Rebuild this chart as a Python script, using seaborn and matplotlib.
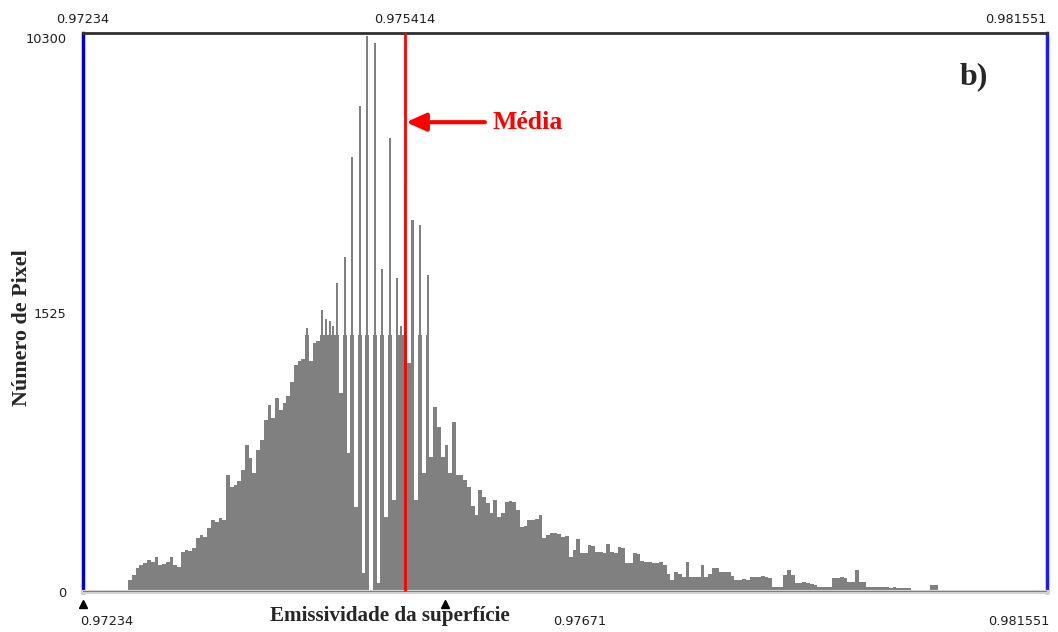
import numpy as np
import matplotlib
matplotlib.use("Agg")
import matplotlib.pyplot as plt
import matplotlib.transforms as mtransforms
import seaborn as sns

# ---------------- data ----------------
x_min = 0.97234
x_max = 0.981551
mean_value = 0.975414
n_bins = 256

pixel_counts = [
    0, 0, 0, 0, 0, 0, 0, 5, 0, 8,
    0, 10, 65, 93, 131, 147, 158, 174, 163, 190,
    147, 152, 163, 190, 147, 136, 218, 229, 223, 240,
    294, 310, 300, 349, 392, 381, 403, 392, 637, 572,
    583, 605, 664, 800, 730, 648, 773, 828, 937, 1018,
    948, 1057, 991, 1029, 1067, 1144, 1236, 1258, 1274, 1443,
    1263, 1361, 1367, 1600, 1490, 1481, 1450, 2450, 1084, 3270,
    757, 6400, 463, 8000, 103, 10200, 0, 10000, 49, 2900,
    408, 7000, 501, 2600, 1450, 5590, 1250, 4430, 501, 4270,
    648, 2700, 735, 1010, 900, 735, 800, 650, 926, 637,
    637, 610, 572, 470, 419, 555, 520, 485, 430, 500,
    408, 430, 490, 495, 490, 446, 354, 360, 392, 392,
    400, 420, 294, 310, 321, 320, 315, 300, 305, 190,
    229, 290, 212, 215, 256, 250, 218, 220, 215, 260,
    218, 212, 245, 240, 158, 160, 212, 205, 170, 163,
    165, 160, 158, 165, 150, 100, 65, 109, 100, 82,
    163, 82, 82, 82, 147, 82, 100, 131, 131, 109,
    109, 109, 90, 65, 65, 70, 65, 82, 82, 82,
    85, 82, 75, 27, 27, 30, 93, 120, 93, 49,
    49, 55, 49, 45, 40, 27, 27, 30, 27, 76,
    76, 80, 76, 54, 54, 120, 54, 54, 27, 27,
    27, 27, 27, 27, 22, 27, 22, 22, 22, 22,
    11, 11, 11, 11, 11, 38, 38, 11, 11, 5,
    11, 5, 11, 0, 5, 0, 5, 0, 0, 5,
    0, 0, 5, 0, 0, 0, 0, 0, 0, 11,
    11, 0, 0, 0, 0, 5,
]

y_ticks = [0, 1525, 10300]
y_tick_labels = ["0", "1525", "10300"]
top_ticks = [0.97234, 0.975414, 0.981551]
top_tick_labels = ["0.97234", "0.975414", "0.981551"]
bottom_ticks = [0.97234, 0.97671, 0.981551]
bottom_tick_labels = ["0.97234", "0.97671", "0.981551"]
stretch_marks = [0.97234, 0.9758]

# ---------------- figure ----------------
sns.set_theme(style="white")
plt.rcParams["font.family"] = ["DejaVu Sans"]

W, H = 1058, 632
fig = plt.figure(figsize=(W / 100, H / 100), dpi=100)
ax = fig.add_axes([83 / W, 1 - 592 / H, 964 / W, 559 / H])

edges = np.linspace(x_min, x_max, n_bins + 1)
centers = (edges[:-1] + edges[1:]) / 2
counts = np.asarray(pixel_counts, dtype=float)
body_level = 1400  # above this level spikes render as thin lines
bar_col = "#808080"

# thin spikes of the quantised values (only visible above the body)
sns.histplot(x=centers, weights=counts, bins=n_bins, binrange=(x_min, x_max),
             ax=ax, color=bar_col, alpha=1.0, edgecolor="none", linewidth=0,
             element="bars", stat="count", shrink=0.55)
# body of the histogram (full-width bins)
sns.histplot(x=centers, weights=np.minimum(counts, body_level), bins=n_bins,
             binrange=(x_min, x_max), ax=ax, color=bar_col, alpha=1.0,
             edgecolor="none", linewidth=0, element="bars", stat="count")

# piecewise-linear y scale as in the ENVI histogram window
def fwd(v):
    v = np.asarray(v, dtype=float)
    return np.where(v <= 1525, v / 1525 * 0.5, 0.5 + (v - 1525) / (10300 - 1525) * 0.5)

def inv(u):
    u = np.asarray(u, dtype=float)
    return np.where(u <= 0.5, u / 0.5 * 1525, 1525 + (u - 0.5) / 0.5 * (10300 - 1525))

ax.set_yscale("function", functions=(fwd, inv))

ax.set_xlim(x_min, x_max)
ax.set_ylim(0, 10300)
ax.set_xlabel("")
ax.set_ylabel("")

# mean line
ax.axvline(mean_value, color="#ff0000", lw=2, zorder=5)
ax.axhline(0, color="#6e6e6e", lw=1.2, zorder=6)

# spines
for s in ax.spines.values():
    s.set_visible(True)
ax.spines["left"].set_color("#0000c8")
ax.spines["left"].set_linewidth(2.5)
ax.spines["right"].set_color("#1a1aff")
ax.spines["right"].set_linewidth(2.5)
ax.spines["top"].set_color("#303030")
ax.spines["top"].set_linewidth(2)
ax.spines["bottom"].set_color("#d2d2d2")
ax.spines["bottom"].set_linewidth(3)

tick_fs = 9.3
tick_col = "#1e1e1e"

# y ticks
ax.set_yticks(y_ticks)
ax.set_yticklabels(y_tick_labels, fontsize=tick_fs, color=tick_col)
ax.tick_params(axis="y", length=0, pad=12)
for lbl in ax.get_yticklabels():
    if lbl.get_text() == "10300":
        lbl.set_va("top")

# top x tick labels
ax.xaxis.set_ticks_position("top")
ax.set_xticks(top_ticks)
ax.set_xticklabels(top_tick_labels, fontsize=tick_fs, color=tick_col)
ax.tick_params(axis="x", length=0, pad=5)
tl = ax.get_xticklabels()
tl[-1].set_ha("right")

# bottom labels
xt = ax.get_xaxis_transform()
ha_list = ["left", "left", "right"]
dx_list = [-2, 9, 2]
for val, lab, ha, dx in zip(bottom_ticks, bottom_tick_labels, ha_list, dx_list):
    tr = mtransforms.offset_copy(xt, fig=fig, x=dx, y=0, units="points")
    ax.text(val, -0.052, lab, transform=tr, ha=ha, va="center",
            fontsize=tick_fs, color=tick_col)
ax.plot(stretch_marks, [-0.022] * len(stretch_marks), linestyle="none",
        marker="^", color="black", markersize=6, transform=xt, clip_on=False)

# axis titles
serif = ["Liberation Serif", "DejaVu Serif"]
fig.text(390 / W, 1 - 616 / H, "Emissividade da superfície", ha="center", va="center",
         fontsize=15.2, fontweight="bold", family=serif)
fig.text(22 / W, 1 - 328 / H, "Número de Pixel", ha="center", va="center",
         rotation=90, fontsize=15.8, fontweight="bold", family=serif)

# panel letter
fig.text(974 / W, 1 - 77 / H, "b)", ha="center", va="center",
         fontsize=23, fontweight="bold", family=serif)

# Média annotation
ax.annotate("", xy=(mean_value, 7500), xytext=(0.97618, 7500),
            arrowprops=dict(arrowstyle="-|>,head_length=1.0,head_width=0.45",
                            color="#ff0000", lw=3, shrinkA=0, shrinkB=1))
ax.text(0.976255, 7500, "Média", color="#ff0000", ha="left", va="center",
        fontsize=18.5, fontweight="bold", family=serif)

fig.savefig("out.png", dpi=100)
